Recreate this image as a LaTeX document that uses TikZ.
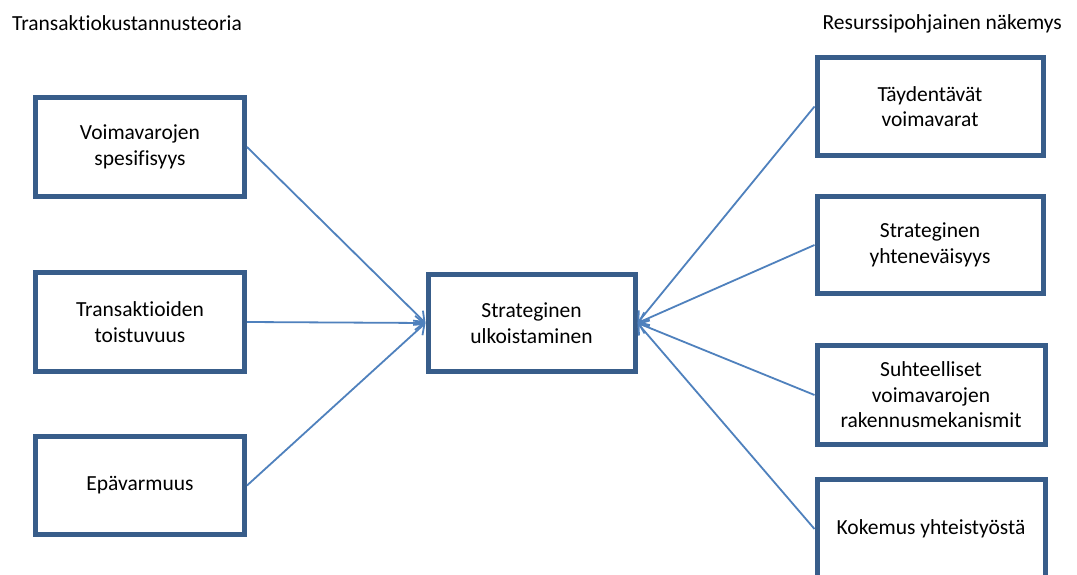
\documentclass[tikz,border=0pt]{standalone}
\usepackage{fontspec}
\setmainfont[Ligatures=NoCommon]{Carlito}
\usetikzlibrary{arrows.meta}
\definecolor{boxblue}{HTML}{385D8A}
\definecolor{linkblue}{HTML}{4F81BD}
\begin{document}
\begin{tikzpicture}[x=1pt,y=-1pt,
  box/.style={draw=boxblue, line width=5pt, fill=white, align=center,
    font=\fontsize{21.5}{25.5}\selectfont, inner sep=0pt},
  link/.style={draw=linkblue, line width=1.8pt, -{Straight Barb[length=9pt,width=14pt,line width=1.8pt]}},
  heading/.style={font=\fontsize{21.5}{25.5}\selectfont, inner sep=0pt}]
\clip (0,0) rectangle (1077,575);
\fill[white] (0,0) rectangle (1077,575);
% headings
\node[heading, anchor=west] (tct) at (12,23) {Transaktiokustannusteoria};
\node[heading, anchor=east] (rbv) at (1062,24) {Resurssipohjainen näkemys};
% left boxes
\node[box, minimum width=209pt, minimum height=99pt] (l1) at (140,147) {Voimavarojen\\spesifisyys};
\node[box, minimum width=209pt, minimum height=99pt] (l2) at (140,322) {Transaktioiden\\toistuvuus};
\node[box, minimum width=209pt, minimum height=98pt] (l3) at (140,485.5) {Epävarmuus};
% centre
\node[box, minimum width=207pt, minimum height=97pt] (c) at (531.5,323) {Strateginen\\ulkoistaminen};
% right boxes
\node[box, minimum width=226pt, minimum height=98pt] (r1) at (930,106.5) {Täydentävät\\voimavarat};
\node[box, minimum width=226pt, minimum height=97pt] (r2) at (930,245) {Strateginen\\yhteneväisyys};
\node[box, minimum width=228pt, minimum height=99pt] (r3) at (931,395) {Suhteelliset\\voimavarojen\\rakennusmekanismit};
\node[box, minimum width=228pt, minimum height=99pt] (r4) at (931,529) {Kokemus yhteistyöstä};
% connectors
\draw[link] (l1.east) -- (c.west);
\draw[link] (l2.east) -- (c.west);
\draw[link] (l3.east) -- (c.west);
\draw[link] (r1.west) -- (c.east);
\draw[link] (r2.west) -- (c.east);
\draw[link] (r3.west) -- (c.east);
\draw[link] (r4.west) -- (c.east);
\end{tikzpicture}
\end{document}
